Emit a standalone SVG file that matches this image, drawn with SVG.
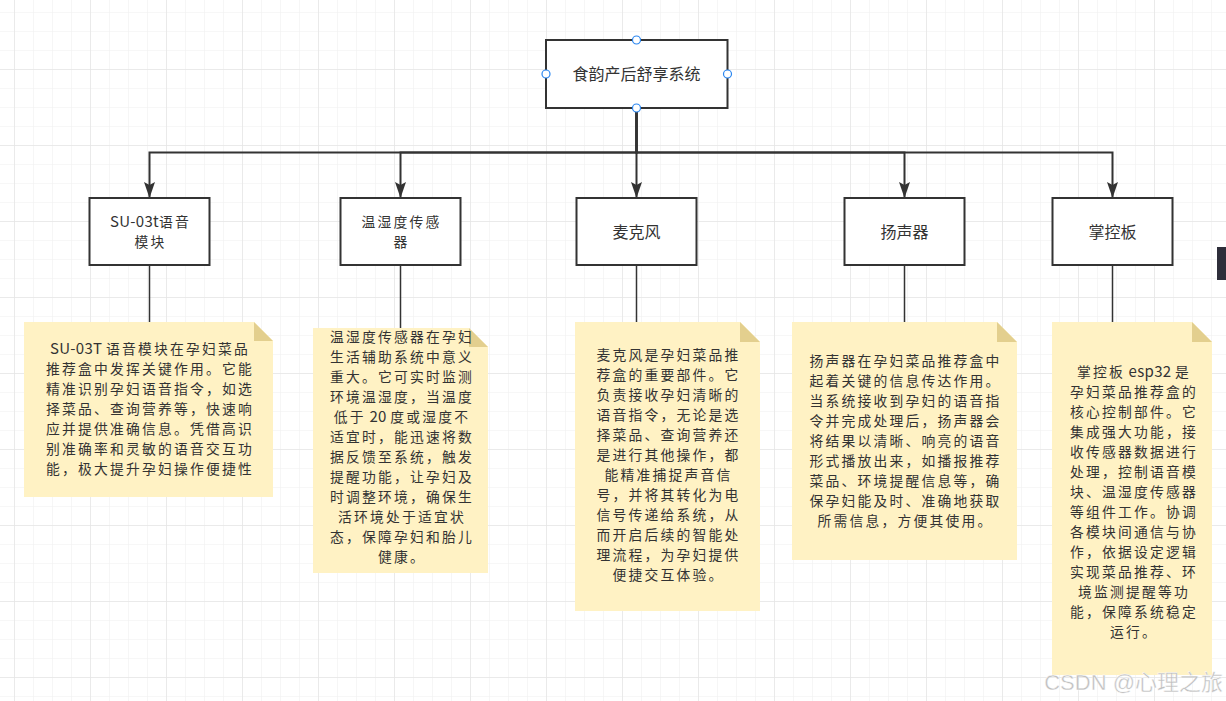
<svg xmlns="http://www.w3.org/2000/svg" width="1226" height="701" viewBox="0 0 1226 701">
  <style>
    .box { fill: #ffffff; stroke: #333333; stroke-width: 2; }
    .note { fill: #fff2c4; stroke: none; }
    .fold { fill: #e3cf8e; stroke: none; }
    .lbl { font-family: "Noto Sans CJK SC", "Noto Sans", sans-serif; font-size: 16px; fill: #333333; text-anchor: middle; }
    .lbl2 { font-family: "Noto Sans CJK SC", "Noto Sans", sans-serif; font-size: 13.8px; letter-spacing: 2.2px; fill: #333333; text-anchor: middle; }
    .ntxt { font-family: "Noto Sans CJK SC", "Noto Sans", sans-serif; font-size: 13.8px; letter-spacing: 2.2px; fill: #333333; text-anchor: middle; }
    .lat { font-size: 15px; letter-spacing: 0.3px; }
    .edge { fill: none; stroke: #333333; stroke-width: 2; }
    .link { fill: none; stroke: #333333; stroke-width: 1.5; }
    .pt { fill: #ffffff; stroke: #2a86f0; stroke-width: 1.2; }
  </style>
  <defs>
    <pattern id="minor" patternUnits="userSpaceOnUse" x="14" y="12" width="19" height="19">
      <path d="M0,0 H19 M0,0 V19" stroke="#f0f0f0" stroke-width="1.2" fill="none"/>
    </pattern>
    <pattern id="major" patternUnits="userSpaceOnUse" x="14" y="-7" width="76" height="76">
      <path d="M0,0 H76 M0,0 V76" stroke="#e6e6e6" stroke-width="1.5" fill="none"/>
    </pattern>
    <marker id="arr" markerUnits="userSpaceOnUse" viewBox="0 0 16 11" refX="15" refY="5.5" markerWidth="16" markerHeight="11" orient="auto">
      <path d="M0,0 L16,5.5 L0,11 L3,5.5 Z" fill="#333333"/>
    </marker>
  </defs>

  <rect width="1226" height="701" fill="#ffffff"/>
  <rect width="1226" height="701" fill="url(#minor)"/>
  <rect width="1226" height="701" fill="url(#major)"/>

  <g id="connectors">
    <path class="edge" d="M636.5,108 V152.5 H149.5 V197" marker-end="url(#arr)"/>
    <path class="edge" d="M636.5,108 V152.5 H400.5 V197" marker-end="url(#arr)"/>
    <path class="edge" d="M636.5,108 V197" marker-end="url(#arr)"/>
    <path class="edge" d="M636.5,108 V152.5 H904.5 V197" marker-end="url(#arr)"/>
    <path class="edge" d="M636.5,108 V152.5 H1112.5 V197" marker-end="url(#arr)"/>
    <path class="link" d="M149.5,265 V322"/>
    <path class="link" d="M400.5,265 V328"/>
    <path class="link" d="M636.5,265 V322"/>
    <path class="link" d="M904.5,265 V322"/>
    <path class="link" d="M1112.5,265 V322"/>
  </g>

  <g id="root">
    <rect class="box" x="546" y="40" width="181.5" height="68"/>
    <text class="lbl" x="636.5" y="80">食韵产后舒享系统</text>
    <circle class="pt" cx="636.5" cy="40" r="4"/>
    <circle class="pt" cx="546" cy="74" r="4"/>
    <circle class="pt" cx="727.5" cy="74" r="4"/>
    <circle class="pt" cx="636.5" cy="108" r="4"/>
  </g>

  <g id="n-su03t">
    <rect class="box" x="89.5" y="198" width="120" height="67"/>
    <text class="lbl2" x="150.5" y="227"><tspan class="lat">SU-03t</tspan>语音<tspan x="150.5" dy="20">模块</tspan></text>
  </g>
  <g id="n-sensor">
    <rect class="box" x="340.5" y="198" width="120" height="67"/>
    <text class="lbl2" x="401.5" y="227">温湿度传感<tspan x="401.5" dy="20">器</tspan></text>
  </g>
  <g id="n-mic">
    <rect class="box" x="576.5" y="198" width="120" height="67"/>
    <text class="lbl" x="636.5" y="238">麦克风</text>
  </g>
  <g id="n-speaker">
    <rect class="box" x="844.5" y="198" width="120" height="67"/>
    <text class="lbl" x="904.5" y="238">扬声器</text>
  </g>
  <g id="n-board">
    <rect class="box" x="1052.5" y="198" width="120" height="67"/>
    <text class="lbl" x="1112.5" y="238">掌控板</text>
  </g>

  <g id="note-su03t">
    <polygon class="note" points="24,322 254,322 273,341 273,497 24,497"/>
    <polygon class="fold" points="254,322 254,341 273,341"/>
    <text class="ntxt" y="354"><tspan x="150"><tspan class="lat">SU-03T </tspan>语音模块在孕妇菜品</tspan><tspan x="150" dy="20">推荐盒中发挥关键作用。它能</tspan><tspan x="150" dy="20">精准识别孕妇语音指令，如选</tspan><tspan x="150" dy="20">择菜品、查询营养等，快速响</tspan><tspan x="150" dy="20">应并提供准确信息。凭借高识</tspan><tspan x="150" dy="20">别准确率和灵敏的语音交互功</tspan><tspan x="150" dy="20">能，极大提升孕妇操作便捷性</tspan></text>
  </g>

  <g id="note-sensor">
    <polygon class="note" points="313,328 469,328 488,347 488,573 313,573"/>
    <polygon class="fold" points="469,328 469,347 488,347"/>
    <text class="ntxt" y="342"><tspan x="402">温湿度传感器在孕妇</tspan><tspan x="402" dy="20">生活辅助系统中意义</tspan><tspan x="402" dy="20">重大。它可实时监测</tspan><tspan x="402" dy="20">环境温湿度，当温度</tspan><tspan x="402" dy="20">低于<tspan class="lat"> 20 </tspan>度或湿度不</tspan><tspan x="402" dy="20">适宜时，能迅速将数</tspan><tspan x="402" dy="20">据反馈至系统，触发</tspan><tspan x="402" dy="20">提醒功能，让孕妇及</tspan><tspan x="402" dy="20">时调整环境，确保生</tspan><tspan x="402" dy="20">活环境处于适宜状</tspan><tspan x="402" dy="20">态，保障孕妇和胎儿</tspan><tspan x="402" dy="20">健康。</tspan></text>
  </g>

  <g id="note-mic">
    <polygon class="note" points="575,322 740,322 760,342 760,611 575,611"/>
    <polygon class="fold" points="740,322 740,342 760,342"/>
    <text class="ntxt" y="360"><tspan x="668.5">麦克风是孕妇菜品推</tspan><tspan x="668.5" dy="20">荐盒的重要部件。它</tspan><tspan x="668.5" dy="20">负责接收孕妇清晰的</tspan><tspan x="668.5" dy="20">语音指令，无论是选</tspan><tspan x="668.5" dy="20">择菜品、查询营养还</tspan><tspan x="668.5" dy="20">是进行其他操作，都</tspan><tspan x="668.5" dy="20">能精准捕捉声音信</tspan><tspan x="668.5" dy="20">号，并将其转化为电</tspan><tspan x="668.5" dy="20">信号传递给系统，从</tspan><tspan x="668.5" dy="20">而开启后续的智能处</tspan><tspan x="668.5" dy="20">理流程，为孕妇提供</tspan><tspan x="668.5" dy="20">便捷交互体验。</tspan></text>
  </g>

  <g id="note-speaker">
    <polygon class="note" points="792,322 997,322 1017,342 1017,560 792,560"/>
    <polygon class="fold" points="997,322 997,342 1017,342"/>
    <text class="ntxt" y="366"><tspan x="905.5">扬声器在孕妇菜品推荐盒中</tspan><tspan x="905.5" dy="20">起着关键的信息传达作用。</tspan><tspan x="905.5" dy="20">当系统接收到孕妇的语音指</tspan><tspan x="905.5" dy="20">令并完成处理后，扬声器会</tspan><tspan x="905.5" dy="20">将结果以清晰、响亮的语音</tspan><tspan x="905.5" dy="20">形式播放出来，如播报推荐</tspan><tspan x="905.5" dy="20">菜品、环境提醒信息等，确</tspan><tspan x="905.5" dy="20">保孕妇能及时、准确地获取</tspan><tspan x="905.5" dy="20">所需信息，方便其使用。</tspan></text>
  </g>

  <g id="note-board">
    <polygon class="note" points="1052,322 1192,322 1212,342 1212,675 1052,675"/>
    <polygon class="fold" points="1192,322 1192,342 1212,342"/>
    <text class="ntxt" y="377"><tspan x="1134">掌控板<tspan class="lat"> esp32 </tspan>是</tspan><tspan x="1134" dy="20">孕妇菜品推荐盒的</tspan><tspan x="1134" dy="20">核心控制部件。它</tspan><tspan x="1134" dy="20">集成强大功能，接</tspan><tspan x="1134" dy="20">收传感器数据进行</tspan><tspan x="1134" dy="20">处理，控制语音模</tspan><tspan x="1134" dy="20">块、温湿度传感器</tspan><tspan x="1134" dy="20">等组件工作。协调</tspan><tspan x="1134" dy="20">各模块间通信与协</tspan><tspan x="1134" dy="20">作，依据设定逻辑</tspan><tspan x="1134" dy="20">实现菜品推荐、环</tspan><tspan x="1134" dy="20">境监测提醒等功</tspan><tspan x="1134" dy="20">能，保障系统稳定</tspan><tspan x="1134" dy="20">运行。</tspan></text>
  </g>

  <rect x="1217" y="247" width="9" height="33" fill="#2e2e3a"/>
  <text x="1223" y="690" font-family="Liberation Sans, Noto Sans CJK SC, sans-serif" font-size="22" fill="#c0c0c0" stroke="#ffffff" stroke-width="0.4" text-anchor="end">CSDN @心理之旅</text>
</svg>
